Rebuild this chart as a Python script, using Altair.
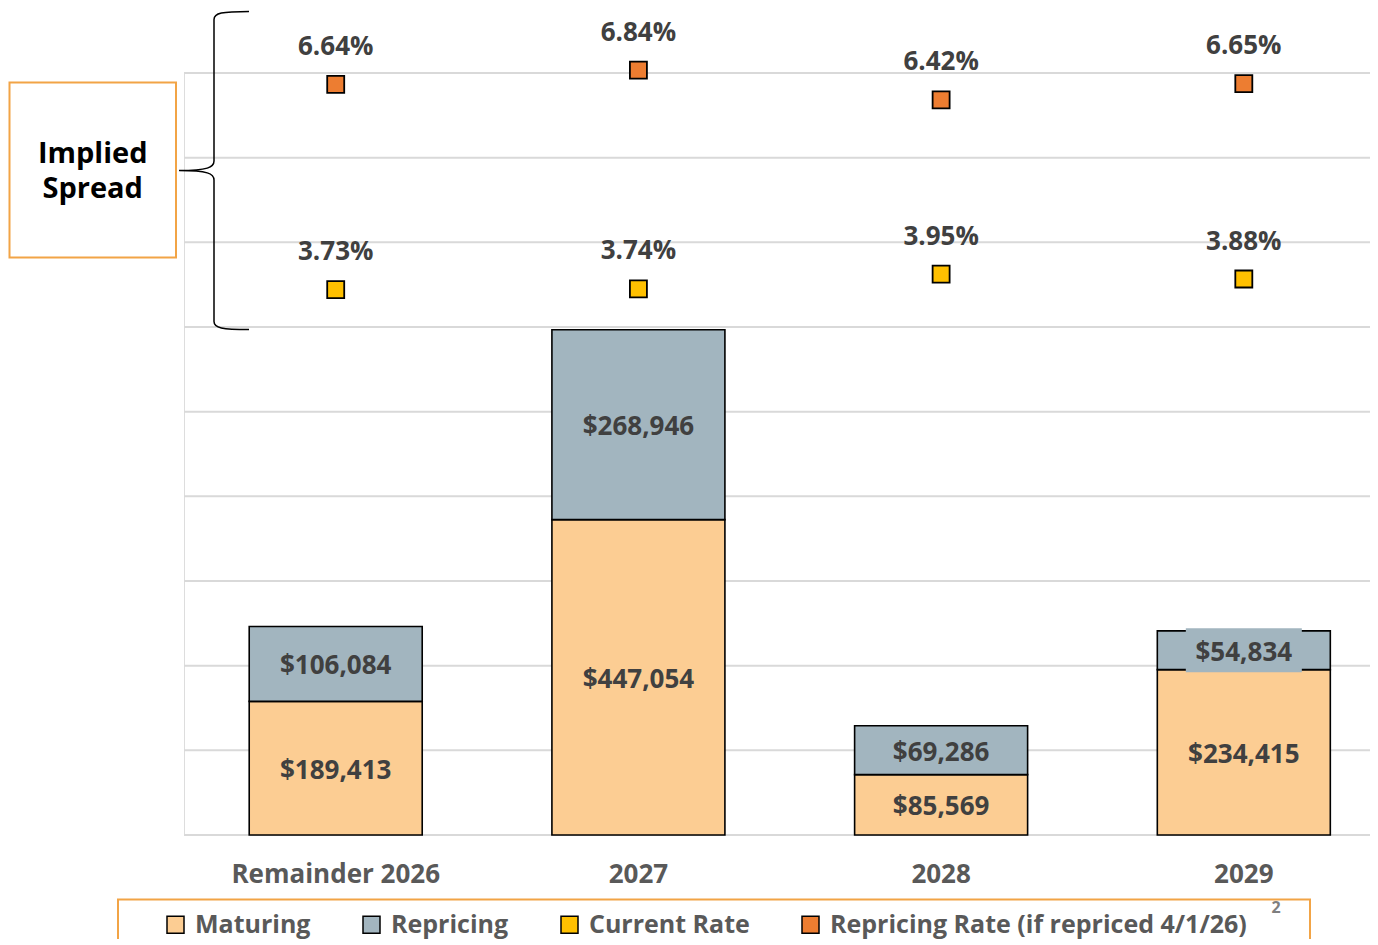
import altair as alt
import pandas as pd

# ---- data ----
categories = ["Remainder 2026", "2027", "2028", "2029"]
maturing = [189413, 447054, 85569, 234415]
repricing = [106084, 268946, 69286, 54834]
current_rate = [3.73, 3.74, 3.95, 3.88]
repricing_rate = [6.64, 6.84, 6.42, 6.65]
series_names = ["Maturing", "Repricing", "Current Rate", "Repricing Rate (if repriced 4/1/26)"]
series_colors = ["#FCCD93", "#A2B5BF", "#FFC000", "#ED7D31"]
bar_gridlines = [0, 120000, 240000, 360000, 480000, 600000, 720000, 840000, 960000, 1080000]
bar_domain = [0, 1080000]
rate_domain = [-4.0, 6.8]
spread_lines = ["Implied", "Spread"]

# ---- tables built from the arrays ----
bar_rows = []
for i, c in enumerate(categories):
    bar_rows.append(dict(cat=c, idx=i, series=series_names[0], lo=0, hi=maturing[i], value=maturing[i]))
    bar_rows.append(dict(cat=c, idx=i, series=series_names[1], lo=maturing[i],
                         hi=maturing[i] + repricing[i], value=repricing[i]))
bars_df = pd.DataFrame(bar_rows)
bars_df["mid"] = (bars_df["lo"] + bars_df["hi"]) / 2

rate_rows = []
for i, c in enumerate(categories):
    rate_rows.append(dict(cat=c, idx=i, series=series_names[2], rate=current_rate[i]))
    rate_rows.append(dict(cat=c, idx=i, series=series_names[3], rate=repricing_rate[i]))
rates_df = pd.DataFrame(rate_rows)

cat_df = pd.DataFrame({"cat": categories, "idx": list(range(len(categories)))})
grid_df = pd.DataFrame({"g": bar_gridlines})
one = pd.DataFrame({"k": [0]})

FONT = "Open Sans"
W, H = 1186, 762
STEP = 302.7

x_scale = alt.Scale(domain=[-0.5012, -0.5012 + W / STEP], nice=False, zero=False, padding=0)
y_bar = alt.Scale(domain=bar_domain, nice=False, zero=False, padding=0)
y_rate = alt.Scale(domain=rate_domain, nice=False, zero=False, padding=0)
color_scale = alt.Scale(domain=series_names, range=series_colors)

legend = alt.Legend(
    title=None, orient="none", legendX=-21, legendY=839, direction="horizontal",
    symbolType="square", symbolSize=289, symbolStrokeColor="black", symbolStrokeWidth=1.5,
    symbolOpacity=1, labelFont=FONT, labelFontSize=25, labelFontWeight="bold",
    labelColor="#595959", labelOffset=7, columnPadding=48, padding=0, labelLimit=800,
)

X = alt.X("idx:Q", scale=x_scale, axis=None)

grid = alt.Chart(grid_df).mark_rule(color="#D9D9D9", strokeWidth=2).encode(
    y=alt.Y("g:Q", scale=y_bar, axis=None), x=alt.value(0), x2=alt.value(W)
)

bars = alt.Chart(bars_df).mark_bar(size=173, stroke="black", strokeWidth=1.6).encode(
    x=X,
    y=alt.Y("lo:Q", scale=y_bar, axis=None),
    y2="hi:Q",
    color=alt.Color("series:N", scale=color_scale, legend=legend),
)

label_bg = alt.Chart(bars_df).transform_filter(
    (alt.datum.cat == "2029") & (alt.datum.series == "Repricing")
).mark_point(shape="M-1,-0.38L1,-0.38L1,0.38L-1,0.38Z", size=13456, filled=True,
             fill="#A2B5BF", opacity=1, strokeWidth=0).encode(
    x=X, y=alt.Y("mid:Q", scale=y_bar, axis=None)
)

bar_labels = alt.Chart(bars_df).mark_text(
    font=FONT, fontSize=26, fontWeight="bold", color="#404040", baseline="alphabetic", dy=10.5
).encode(x=X, y=alt.Y("mid:Q", scale=y_bar, axis=None), text=alt.Text("value:Q", format="$,.0f"))

cat_labels = alt.Chart(cat_df).mark_text(
    font=FONT, fontSize=26, fontWeight="bold", color="#595959", baseline="alphabetic"
).encode(x=X, y=alt.value(810), text="cat:N")

bar_group = alt.layer(grid, bars, label_bg, bar_labels, cat_labels)

points = alt.Chart(rates_df).mark_point(
    shape="square", size=289, filled=True, opacity=1, stroke="black", strokeWidth=1.8
).encode(
    x=X, y=alt.Y("rate:Q", scale=y_rate, axis=None),
    color=alt.Color("series:N", scale=color_scale, legend=legend),
)

rate_labels = alt.Chart(rates_df).transform_calculate(
    lbl="format(datum.rate, '.2f') + '%'"
).mark_text(
    font=FONT, fontSize=26, fontWeight="bold", color="#404040", baseline="alphabetic", dy=-29.5
).encode(x=X, y=alt.Y("rate:Q", scale=y_rate, axis=None), text="lbl:N")

rate_group = alt.layer(points, rate_labels)

# ---- annotations ----
spread_box = alt.Chart(one).mark_rect(fill="white", stroke="#F2A446", strokeWidth=2).encode(
    x=alt.value(-174.5), x2=alt.value(-8), y=alt.value(9.5), y2=alt.value(184.5)
)
spread_text1 = alt.Chart(one).mark_text(
    font=FONT, fontSize=29, fontWeight="bold", color="black", baseline="alphabetic", align="center"
).encode(x=alt.value(-91.3), y=alt.value(90.3), text=alt.value(spread_lines[0]))
spread_text2 = alt.Chart(one).mark_text(
    font=FONT, fontSize=29, fontWeight="bold", color="black", baseline="alphabetic", align="center"
).encode(x=alt.value(-91.3), y=alt.value(125.3), text=alt.value(spread_lines[1]))

brace = alt.Chart(one).mark_point(
    shape=("M0.22,-1C0.05,-1 0,-0.99 0,-0.95L0,-0.06C0,-0.02 -0.04,0 -0.22,0"
           "C-0.04,0 0,0.02 0,0.06L0,0.95C0,0.99 0.05,1 0.22,1"),
    size=101124, filled=False, opacity=1, stroke="black", strokeWidth=1.5
).encode(x=alt.value(30), y=alt.value(97.5))

legend_box = alt.Chart(one).mark_rect(fill="white", stroke="#F2A446", strokeWidth=2).encode(
    x=alt.value(-66), x2=alt.value(1126), y=alt.value(826.5), y2=alt.value(900)
)
footnote = alt.Chart(one).mark_text(
    font=FONT, fontSize=16, fontWeight="bold", color="#7F7F7F", baseline="alphabetic"
).encode(x=alt.value(1092), y=alt.value(840), text=alt.value("2"))

chart = alt.layer(
    legend_box, bar_group, rate_group, spread_box, spread_text1, spread_text2, brace, footnote
).resolve_scale(y="independent").properties(
    width=W, height=H,
    autosize=alt.AutoSizeParams(type="none"),
    padding={"left": 176, "top": 65, "right": 0, "bottom": 104},
).configure_view(stroke="transparent", strokeWidth=0).configure(font=FONT)

chart.save("out.html", embed_options={"renderer": "svg", "actions": False})
